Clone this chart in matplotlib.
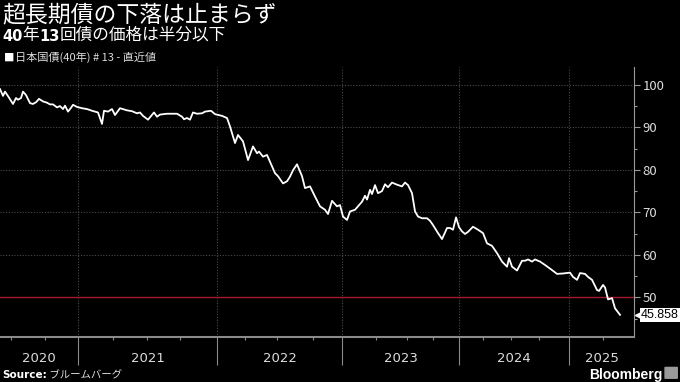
import numpy as np
import matplotlib.pyplot as plt
from matplotlib.patches import FancyBboxPatch
from matplotlib.transforms import blended_transform_factory

# 日本国債(40年) #13 の価格 - 観測番号(x)と価格(y)
obs = [0, 3, 5, 9, 13, 16, 18, 21, 23, 26, 30, 33, 36, 39, 43, 47, 50, 53, 57, 60,
       63, 65, 68, 71, 73, 77, 82, 87, 92, 95, 98, 102, 104, 108, 112, 115, 120, 127, 132, 137,
       140, 143, 148, 154, 157, 160, 167, 177, 182, 184, 187, 190, 193, 197, 202, 205, 211, 215, 222, 227,
       230, 235, 238, 243, 248, 253, 257, 259, 263, 267, 270, 275, 278, 283, 287, 290, 293, 297, 302, 305,
       310, 315, 320, 325, 328, 332, 337, 340, 343, 347, 350, 355, 358, 362, 365, 367, 370, 372, 375, 378,
       382, 385, 388, 392, 397, 402, 405, 408, 412, 415, 418, 422, 427, 430, 433, 438, 442, 447, 450, 453,
       456, 459, 462, 465, 468, 473, 478, 483, 487, 492, 497, 502, 507, 509, 512, 517, 522, 525, 528, 532,
       535, 540, 545, 552, 557, 563, 570, 573, 577, 580, 585, 588, 592, 597, 599, 603, 605, 608, 612, 615,
       618, 620]
price = [99.0, 97.4, 98.4, 97.0, 95.5, 96.9, 96.5, 96.9, 98.4, 97.6, 95.7, 95.5, 95.9, 96.7, 96.1, 95.8, 95.4, 95.4, 94.7, 95.0,
         94.3, 95.1, 93.7, 94.6, 95.3, 94.8, 94.5, 94.3, 93.9, 93.7, 93.5, 90.8, 93.9, 93.7, 94.3, 92.9, 94.5, 94.0, 93.8, 93.3,
         93.5, 92.7, 91.8, 93.5, 92.5, 93.0, 93.2, 93.2, 92.5, 91.9, 92.2, 91.8, 93.5, 93.2, 93.3, 93.7, 93.9, 93.1, 92.7, 92.2,
         90.2, 86.3, 88.2, 86.7, 82.3, 85.5, 83.9, 84.3, 83.1, 83.5, 81.9, 79.2, 78.5, 76.8, 77.3, 78.4, 79.9, 81.3, 78.5, 75.7,
         76.1, 73.7, 71.4, 70.6, 69.6, 72.7, 71.4, 71.7, 69.0, 68.2, 70.2, 70.6, 71.4, 72.5, 73.9, 73.0, 75.3, 74.3, 76.4, 74.5,
         75.0, 76.6, 75.9, 77.0, 76.5, 76.1, 77.0, 76.4, 74.5, 70.2, 69.0, 68.6, 68.6, 68.0, 67.0, 65.1, 63.7, 66.3, 66.3, 65.9,
         68.8, 66.5, 65.5, 64.9, 65.4, 66.6, 65.9, 65.1, 62.7, 62.1, 60.4, 58.4, 57.2, 59.2, 57.2, 56.3, 58.6, 58.6, 58.9, 58.4,
         58.9, 58.4, 57.6, 56.4, 55.5, 55.6, 55.8, 54.8, 54.1, 55.7, 55.5, 54.8, 54.1, 51.7, 51.5, 52.9, 52.3, 49.5, 49.8, 47.4,
         46.5, 45.858]

# 年・四半期の区切り(観測番号)
year_start_obs = [78, 217, 342, 459, 569]
quarter_obs = [11, 45, 113, 147, 180, 245, 277, 313, 376, 407, 433, 483, 511, 539, 603]
year_labels = ["2020", "2021", "2022", "2023", "2024", "2025"]
obs_end = 634
ref_level = 50

plt.rcParams['font.family'] = ['Noto Sans CJK JP', 'DejaVu Sans']

fig = plt.figure(figsize=(6.8, 3.82), dpi=100, facecolor='black')
ax = fig.add_axes([0.0, 0.1178, 0.9324, 0.7068])
ax.set_facecolor('black')

ax.plot(obs, price, color='white', lw=1.3, zorder=3)
ax.axhline(ref_level, color='#a3182c', lw=1.0, zorder=2)

ax.set_xlim(0, obs_end)
ax.set_ylim(40.65, 104.2)

# y軸は右側
ax.yaxis.tick_right()
ax.set_yticks([50, 60, 70, 80, 90, 100])
ax.set_yticks(np.arange(45, 105, 5), minor=True)
ax.tick_params(axis='y', which='major', colors='#9a9a9a', labelcolor='#dddddd',
               labelsize=9.5, length=4, width=0.8, pad=2)
ax.tick_params(axis='y', which='minor', colors='#9a9a9a', length=2.5, width=0.8)

ax.set_xticks(year_start_obs)
ax.set_xticks(quarter_obs, minor=True)
ax.set_xticklabels([])
ax.tick_params(axis='x', which='major', colors='#8a8a8a', length=20, width=0.8)
ax.tick_params(axis='x', which='minor', colors='#8a8a8a', length=2, width=0.8)

# 年ラベル(表示範囲内の中央)
edges = [0] + year_start_obs + [obs_end]
tr = blended_transform_factory(ax.transData, ax.transAxes)
for i, lab in enumerate(year_labels):
    mid = (edges[i] + edges[i + 1]) / 2
    ax.text(mid, -0.078, lab, transform=tr, ha='center', va='center',
            color='#dddddd', fontsize=9.5, family='DejaVu Sans')

for y in [60, 70, 80, 90, 100]:
    ax.axhline(y, color='#4a4a4a', lw=0.8, ls=(0, (1, 1.5)), zorder=1)
for x in year_start_obs:
    ax.axvline(x, color='#4a4a4a', lw=0.8, ls=(0, (1, 1.5)), zorder=1)

for s in ['top', 'left']:
    ax.spines[s].set_visible(False)
ax.spines['bottom'].set_color('#8a8a8a')
ax.spines['bottom'].set_linewidth(1.5)
ax.spines['right'].set_color('#9a9a9a')
ax.spines['right'].set_linewidth(0.8)

# 最新値ラベル
last = price[-1]
tr_y = blended_transform_factory(ax.transAxes, ax.transData)
ax.plot([1.007], [last], marker='<', color='white', ms=5, transform=tr_y,
        clip_on=False, zorder=5)
ax.text(1.011, last, f"{last:.3f}", transform=tr_y,
        ha='left', va='center', fontsize=9, color='black', family='Liberation Sans',
        bbox=dict(boxstyle='square,pad=0.1', fc='white', ec='none'), zorder=6)

# タイトル
fig.text(0.003, 0.99, "超長期債の下落は止まらず", color='white', fontsize=16.5, va='top', ha='left')
t1 = fig.text(0.003, 0.893, "40", color='white', fontsize=10.5, fontweight='bold',
              family='DejaVu Sans', va='baseline', ha='left')
parts = [("年", 'normal'), ("13", 'bold'), ("回債の価格は半分以下", 'normal')]
prev = t1
for s, w in parts:
    fam = 'DejaVu Sans' if w == 'bold' else 'Noto Sans CJK JP'
    prev = ax.annotate(s, xy=(1, 0), xycoords=prev, va='bottom', ha='left',
                       color='white', fontsize=10.5 if w == 'bold' else 12,
                       fontweight=w, family=fam, annotation_clip=False)

fig.text(0.006, 0.85, "■", color='white', fontsize=7.5, va='center', ha='left')
fig.text(0.022, 0.85, "日本国債(40年) # 13 - 直近値", color='#dddddd', fontsize=8,
         va='center', ha='left')

# 出典
s1 = fig.text(0.004, 0.01, "Source:", color='white', fontsize=7.5, fontweight='bold',
              family='DejaVu Sans', va='baseline', ha='left')
ax.annotate(" ブルームバーグ", xy=(1, 0), xycoords=s1, va='bottom', ha='left',
            color='#dddddd', fontsize=7.5, annotation_clip=False)
fig.text(0.974, 0.008, "Bloomberg", color='white', fontsize=10, fontweight='bold',
         family='Liberation Sans', va='baseline', ha='right')
fig.patches.append(FancyBboxPatch((0.979, 0.01), 0.016, 0.028, boxstyle='round,pad=0.002',
                                  transform=fig.transFigure, fc='#9a9a9a', ec='none'))

fig.savefig('out.png', dpi=100, facecolor='black')
